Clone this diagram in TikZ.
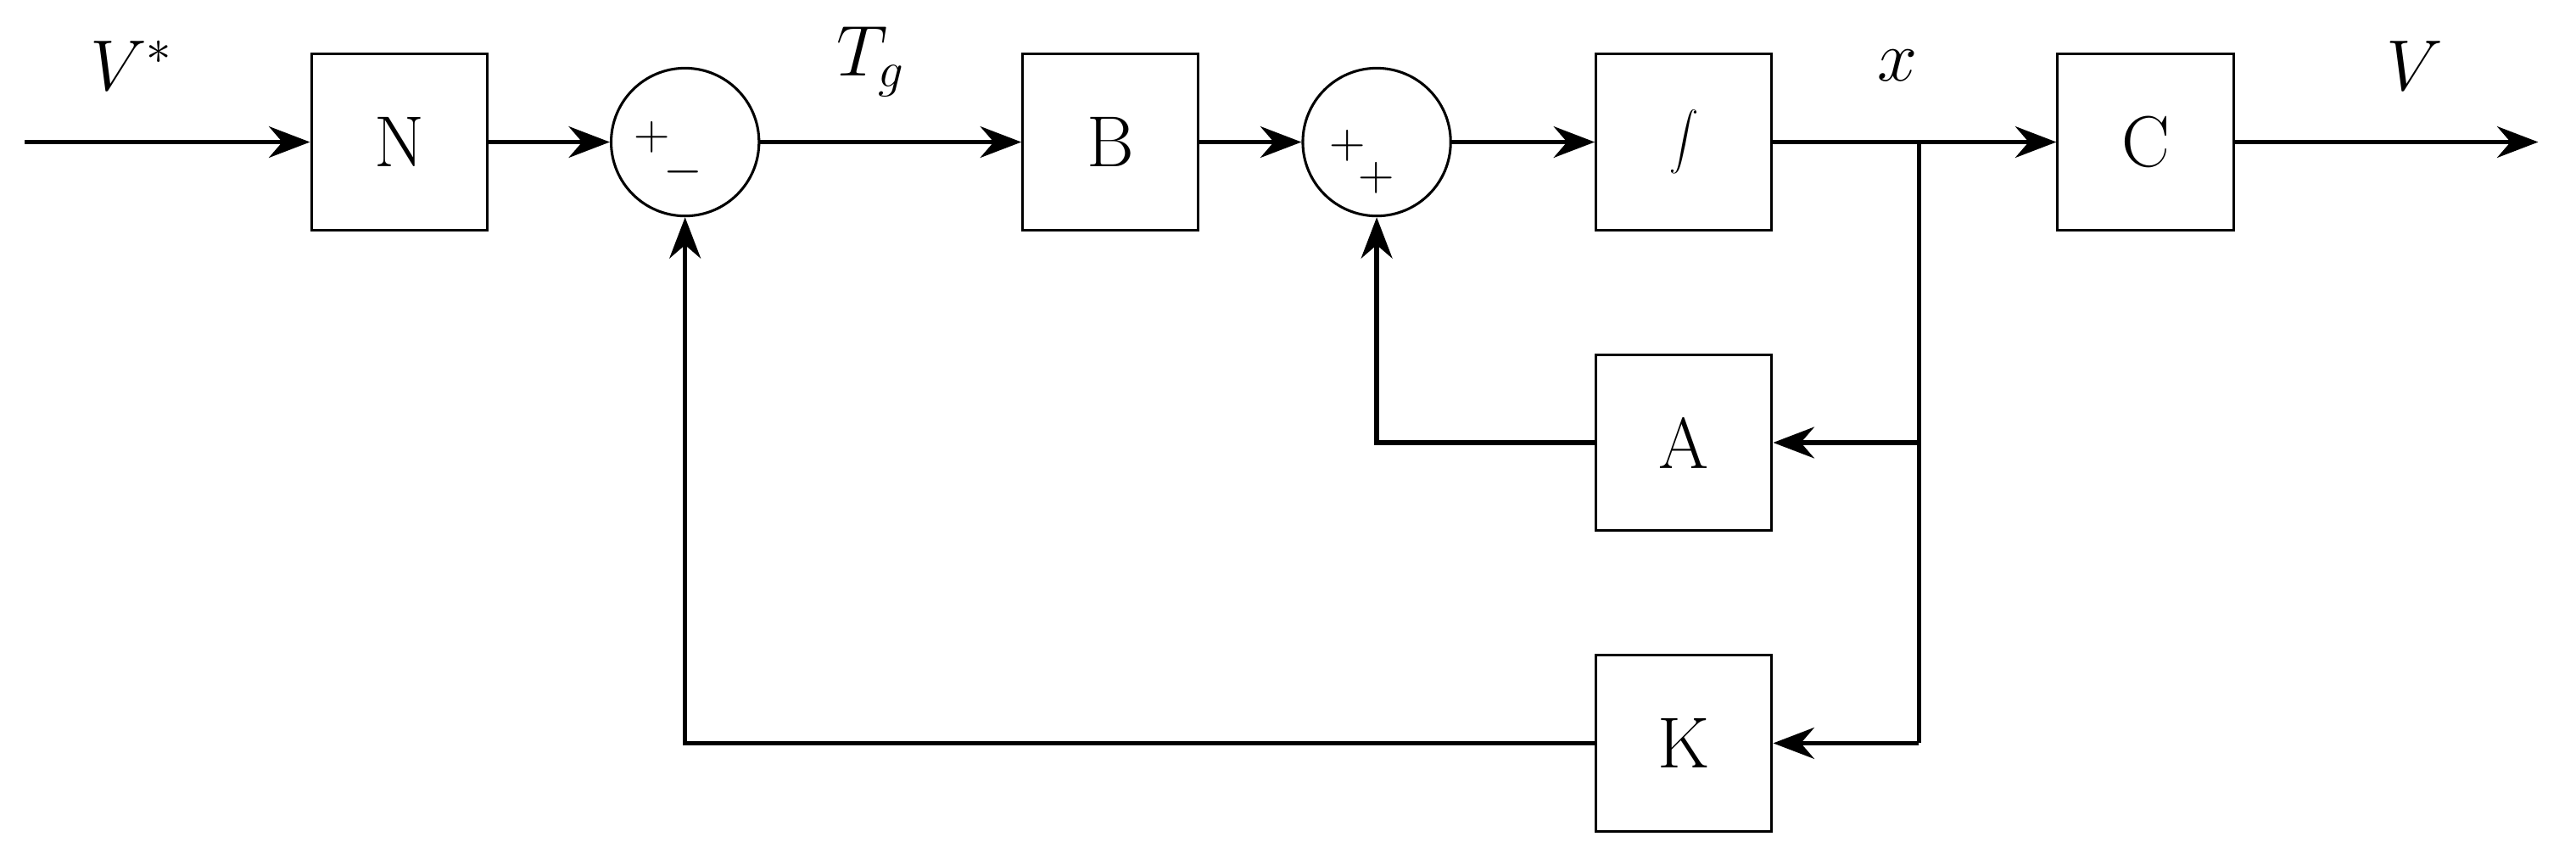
\documentclass[tikz,border=0pt]{standalone}
\usetikzlibrary{arrows.meta,calc}
\begin{document}
\begin{tikzpicture}[
    font=\fontsize{25}{30}\selectfont,
    blk/.style={draw,line width=0.9pt,minimum width=2.14cm,minimum height=2.14cm,inner sep=0pt},
    sum/.style={draw,circle,line width=0.9pt,minimum size=1.8cm,inner sep=0pt},
    sg/.style={font=\fontsize{17}{20}\selectfont,inner sep=0pt},
    sig/.style={line width=1.6pt,-{Stealth[length=0.5cm,width=0.38cm]}},
    ln/.style={line width=1.6pt}]
\useasboundingbox (0,0) rectangle (31.36,10.45);
% main path
\coordinate (in) at (0.3,8.72);
\node[blk] (N) at (4.86,8.72) {N};
\node[sum] (s1) at (8.34,8.72) {};
\node[blk] (B) at (13.52,8.72) {B};
\node[sum] (s2) at (16.76,8.72) {};
\node[blk] (I) at (20.5,8.72) {$\displaystyle\int$};
\node[blk] (C) at (26.12,8.72) {C};
\coordinate (out) at (30.9,8.72);
\node[blk] (A) at (20.5,5.06) {A};
\node[blk] (K) at (20.5,1.4) {K};
\coordinate (sp) at (23.36,8.72);
% signs
\node[sg] at ($(s1)+(-0.4,0.06)$) {$+$};
\node[sg] at ($(s1)+(-0.02,-0.36)$) {$-$};
\node[sg] at ($(s2)+(-0.36,-0.04)$) {$+$};
\node[sg] at ($(s2)+(0,-0.44)$) {$+$};
% labels
\node at (1.6,9.65) {$V^*$};
\node at (10.6,9.7) {$T_g$};
\node at (23.1,9.65) {$x$};
\node at (29.4,9.65) {$V$};
% connectors
\draw[sig] (in) -- (N);
\draw[sig] (N) -- (s1);
\draw[sig] (s1) -- (B);
\draw[sig] (B) -- (s2);
\draw[sig] (s2) -- (I);
\draw[sig] (I) -- (C);
\draw[sig] (C) -- (out);
\draw[ln] (sp) |- (K.east -| sp);
\draw[sig] (sp |- A) -- (A);
\draw[sig] (sp |- K) -- (K);
\draw[sig] (A) -| (s2);
\draw[sig] (K) -| (s1);
\end{tikzpicture}
\end{document}
